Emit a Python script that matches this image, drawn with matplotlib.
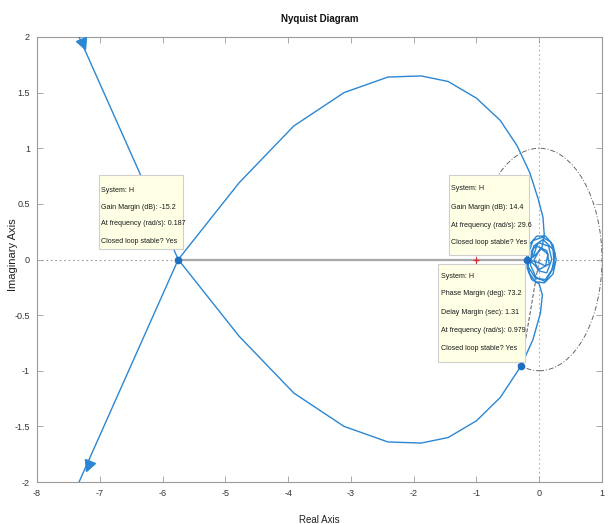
import matplotlib
matplotlib.use("Agg")
import matplotlib.pyplot as plt
from matplotlib.markers import MarkerStyle
from matplotlib.transforms import Affine2D
from matplotlib.patches import Circle, Rectangle

# ---- data -------------------------------------------------------------
# Nyquist curve of H, traced from the upper-left branch, through the
# -5.75 crossing, around the lower lobe, through the high-frequency
# loops near the origin, back around the upper lobe and out to lower-left.
branch_in_re = [-8.12, -5.75]
branch_in_im = [3.00, 0.00]

lower_re = [-5.75, -4.78, -3.91, -3.11, -2.41, -1.88, -1.45, -1.00, -0.62, -0.289, -0.10, 0.02, 0.05, 0.00]
lower_im = [0.00, -0.69, -1.20, -1.50, -1.64, -1.65, -1.60, -1.45, -1.24, -0.957, -0.72, -0.48, -0.32, -0.22]

loops_re = [0.00, -0.12, -0.19, -0.20, -0.15, -0.04, 0.10, 0.22, 0.27, 0.22, 0.10, -0.05,
            -0.14, -0.12, 0.00, 0.15, 0.20, 0.12, -0.02, -0.08, 0.02, 0.14, 0.10, 0.00,
            -0.19, -0.16, -0.06, 0.08, 0.20, 0.25, 0.18, 0.05, -0.10, -0.17, -0.18, -0.06,
            0.10, 0.24, 0.22, 0.06, -0.09, -0.13, 0.00, 0.16, 0.12, -0.04, -0.10, 0.04, 0.08]
loops_im = [-0.22, -0.18, -0.08, 0.03, 0.14, 0.21, 0.21, 0.13, 0.00, -0.13, -0.20, -0.16,
            -0.05, 0.08, 0.15, 0.12, 0.00, -0.12, -0.10, 0.00, 0.10, 0.05, -0.06, -0.03,
            0.00, -0.12, -0.20, -0.21, -0.10, 0.05, 0.16, 0.20, 0.17, 0.06, -0.06, -0.17,
            -0.18, -0.06, 0.09, 0.18, 0.12, -0.02, -0.09, -0.04, 0.08, 0.12, 0.02, 0.10, 0.22]

upper_re = [0.08, 0.06, -0.02, -0.15, -0.35, -0.62, -1.00, -1.45, -1.88, -2.41, -3.11, -3.91, -4.78, -5.75]
upper_im = [0.22, 0.38, 0.55, 0.78, 1.02, 1.25, 1.45, 1.60, 1.65, 1.64, 1.50, 1.20, 0.69, 0.00]

branch_out_re = [-5.75, -8.12]
branch_out_im = [0.00, -3.00]

# direction arrows on the outer branches
arrow_re = [-7.26, -7.18]
arrow_im = [1.94, -1.86]
arrow_rot = [-155, 155]

# stability margins
gm1_db, gm1_freq, gm1_re = -15.2, 0.187, -5.75
gm2_db, gm2_freq, gm2_re = 14.4, 29.6, -0.19
pm_deg, pm_delay, pm_freq = 73.2, 1.31, 0.979
pm_re, pm_im = -0.289, -0.957

xticks = [-8, -7, -6, -5, -4, -3, -2, -1, 0, 1]
yticks = [-2, -1.5, -1, -0.5, 0, 0.5, 1, 1.5, 2]
ytick_labels = ["-2", "-1.5", "-1", "-0.5", "0", "0.5", "1", "1.5", "2"]

# ---- style ------------------------------------------------------------
BLUE = "#2b87d3"
SANS = ["Liberation Sans", "DejaVu Sans"]
TIP_FACE = "#ffffe5"
TIP_EDGE = "#cfcfcf"

fig = plt.figure(figsize=(6.09, 5.24), dpi=100)
ax = fig.add_axes([37 / 609, 1 - 482 / 524, 565 / 609, 445 / 524])
ax.set_xlim(-8, 1)
ax.set_ylim(-2, 2)

# zero lines
ax.axhline(0, color="#9a9a9a", lw=0.8, ls=(0, (1.5, 2.5)), zorder=1)
ax.axvline(0, color="#b0b0b0", lw=0.8, ls=(0, (1.5, 2.5)), zorder=1)

# unit circle and phase-margin ray
ax.add_patch(Circle((0, 0), 1, fill=False, ec="#666666", lw=0.7,
                    ls=(0, (5, 2, 1, 2)), zorder=2))
ax.plot([0, pm_re], [0, pm_im], color="#555555", lw=0.7, ls=(0, (4, 2)), zorder=2)

# gain-margin segment on the real axis
ax.plot([gm1_re, gm2_re], [0, 0], color="#a8a8a8", lw=1.6, zorder=2)

# the Nyquist curve
curve_re = branch_in_re + lower_re[1:] + loops_re[1:] + upper_re + branch_out_re[1:]
curve_im = branch_in_im + lower_im[1:] + loops_im[1:] + upper_im + branch_out_im[1:]
ax.plot(curve_re, curve_im, color=BLUE, lw=1.0, zorder=3, clip_on=True)

for xr, yi, rot in zip(arrow_re, arrow_im, arrow_rot):
    m = MarkerStyle("^", transform=Affine2D().rotate_deg(rot))
    ax.plot([xr], [yi], marker=m, ms=8, color=BLUE, mec=BLUE, zorder=4)

# critical point
ax.plot([-1], [0], marker="+", ms=5, mew=0.9, color="#e0262b", zorder=4)

# data-tip markers
ax.plot([gm1_re, gm2_re, pm_re], [0, 0, pm_im], ls="none", marker="o", ms=4.5,
        color="#1f6fc0", zorder=6)

# data tips
def tip(x0, x1, y0, y1, lines, ys, xt):
    ax.add_patch(Rectangle((x0, y0), x1 - x0, y1 - y0, fc=TIP_FACE, ec=TIP_EDGE,
                           lw=0.8, zorder=5))
    for s, yy in zip(lines, ys):
        ax.text(xt, yy, s, fontsize=5.1, family=SANS, color="#1a1a1a",
                va="center", ha="left", zorder=6)

tip(-7.02, -5.68, 0.09, 0.76,
    ["System: H", f"Gain Margin (dB): {gm1_db}", f"At frequency (rad/s): {gm1_freq}",
     "Closed loop stable? Yes"],
    [0.62, 0.47, 0.32, 0.16], -6.98)
tip(-1.44, -0.16, 0.04, 0.76,
    ["System: H", f"Gain Margin (dB): {gm2_db}", f"At frequency (rad/s): {gm2_freq}",
     "Closed loop stable? Yes"],
    [0.64, 0.47, 0.31, 0.15], -1.40)
tip(-1.61, -0.22, -0.92, -0.04,
    ["System: H", f"Phase Margin (deg): {pm_deg}", f"Delay Margin (sec): {pm_delay}",
     f"At frequency (rad/s): {pm_freq}", "Closed loop stable? Yes"],
    [-0.15, -0.31, -0.48, -0.64, -0.80], -1.57)

# axes styling
for sp in ax.spines.values():
    sp.set_color("#9a9a9a")
    sp.set_linewidth(0.8)
ax.set_xticks(xticks)
ax.set_xticklabels([str(t) for t in xticks])
ax.set_yticks(yticks)
ax.set_yticklabels(ytick_labels)
ax.tick_params(direction="in", length=4, width=0.6, color="#9a9a9a",
               labelsize=6.5, labelcolor="#333333", top=True, right=True, pad=5)
for lab in ax.get_xticklabels() + ax.get_yticklabels():
    lab.set_family(SANS)

ax.set_title("Nyquist Diagram", fontsize=7, fontweight="bold", family=SANS,
             color="#111111", pad=11)
ax.set_xlabel("Real Axis", fontsize=7, family=SANS, color="#222222", labelpad=12)
ax.set_ylabel("Imaginary Axis", fontsize=8, family=SANS, color="#222222")
ax.yaxis.set_label_coords(-0.033, 0.51)

fig.savefig("out.png", dpi=100)
